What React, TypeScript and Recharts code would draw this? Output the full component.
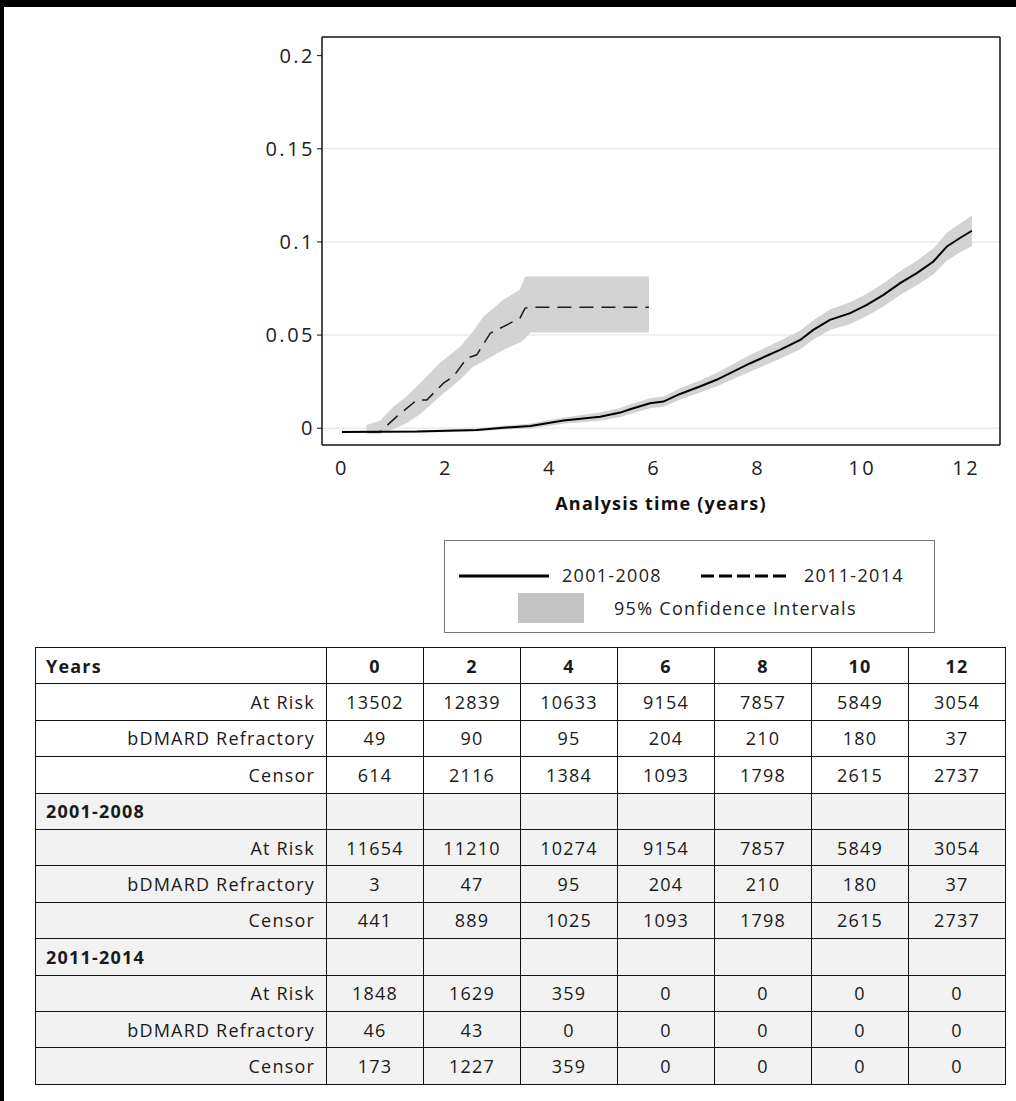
import React from 'react';
import { ComposedChart, Area, Line, XAxis, YAxis, CartesianGrid, Label, ReferenceLine } from 'recharts';

// 2001-2008 cumulative incidence (solid) and its 95% CI
const earlyTimes = [0, 1.44, 2.59, 3.1, 3.62, 4.26, 4.96, 5.35, 5.54, 5.92, 6.18, 6.5, 6.88, 7.2, 7.85, 8.42, 8.81, 9.06, 9.38, 9.77, 10.09, 10.41, 10.73, 11.05, 11.37, 11.63, 11.88, 12.11];
const earlyRisk = [-0.002, -0.0018, -0.0009, 0.0003, 0.0012, 0.0041, 0.0062, 0.0084, 0.0102, 0.0134, 0.0143, 0.0184, 0.0224, 0.026, 0.0349, 0.0421, 0.0474, 0.0528, 0.0582, 0.0618, 0.0662, 0.0716, 0.0779, 0.0833, 0.0895, 0.0976, 0.1021, 0.106];
const earlyLow = [-0.0026, -0.0024, -0.0017, -0.0007, -0.0001, 0.0024, 0.004, 0.006, 0.0077, 0.0107, 0.0115, 0.0154, 0.0192, 0.0224, 0.0304, 0.0373, 0.0424, 0.0476, 0.0527, 0.056, 0.0602, 0.0654, 0.0715, 0.0767, 0.0825, 0.0901, 0.0943, 0.0978];
const earlyHigh = [-0.0014, -0.0012, -0.0001, 0.0013, 0.0025, 0.0058, 0.0084, 0.0108, 0.0127, 0.0161, 0.0171, 0.0214, 0.0256, 0.0296, 0.0394, 0.0469, 0.0524, 0.058, 0.0637, 0.0676, 0.0722, 0.0778, 0.0843, 0.0899, 0.0965, 0.1051, 0.1099, 0.1142];

// 2011-2014 cumulative incidence (dashed)
const lateTimes = [0.5, 0.73, 1.05, 1.44, 1.63, 1.95, 2.14, 2.4, 2.59, 2.85, 3.17, 3.42, 3.52, 3.62, 5.9];
const lateRisk = [-0.002, -0.002, 0.0062, 0.0152, 0.0152, 0.0242, 0.0277, 0.0376, 0.0394, 0.051, 0.0555, 0.0591, 0.0645, 0.065, 0.065];

// 2011-2014 95% CI
const lateCiTimes = [0.47, 0.73, 0.99, 1.24, 1.5, 1.88, 2.27, 2.52, 2.72, 3.1, 3.42, 3.52, 3.62, 5.9];
const lateLow = [-0.003, -0.003, -0.0005, 0.0027, 0.0075, 0.017, 0.026, 0.033, 0.036, 0.042, 0.046, 0.048, 0.0514, 0.0514];
const lateHigh = [0.0018, 0.004, 0.0116, 0.017, 0.0242, 0.035, 0.0438, 0.052, 0.06, 0.069, 0.0743, 0.0814, 0.0814, 0.0814];

const xTicks = [0, 2, 4, 6, 8, 10, 12];
const yTicks = [0, 0.05, 0.1, 0.15, 0.2];
const gridValues = [0, 0.05, 0.1, 0.15];

// risk table
const tableYears = ['0', '2', '4', '6', '8', '10', '12'];
const allAtRisk = [13502, 12839, 10633, 9154, 7857, 5849, 3054];
const allRefractory = [49, 90, 95, 204, 210, 180, 37];
const allCensor = [614, 2116, 1384, 1093, 1798, 2615, 2737];
const earlyAtRisk = [11654, 11210, 10274, 9154, 7857, 5849, 3054];
const earlyRefractory = [3, 47, 95, 204, 210, 180, 37];
const earlyCensor = [441, 889, 1025, 1093, 1798, 2615, 2737];
const lateAtRisk = [1848, 1629, 359, 0, 0, 0, 0];
const lateRefractory = [46, 43, 0, 0, 0, 0, 0];
const lateCensor = [173, 1227, 359, 0, 0, 0, 0];

const earlyLine = earlyTimes.map((t, i) => ({ t, y: earlyRisk[i] }));
const earlyBand = earlyTimes.map((t, i) => ({ t, ci: [earlyLow[i], earlyHigh[i]] }));
const lateLine = lateTimes.map((t, i) => ({ t, y: lateRisk[i] }));
const lateBand = lateCiTimes.map((t, i) => ({ t, ci: [lateLow[i], lateHigh[i]] }));

const FONT = '"Open Sans", "DejaVu Sans", sans-serif';
const xDomain: [number, number] = [-0.385, 12.65];
const yDomain: [number, number] = [-0.009, 0.21];

type TableRow = { label: string; values?: number[]; group?: boolean; gray?: boolean };

const tableRows: TableRow[] = [
  { label: 'At Risk', values: allAtRisk },
  { label: 'bDMARD Refractory', values: allRefractory },
  { label: 'Censor', values: allCensor },
  { label: '2001-2008', group: true, gray: true },
  { label: 'At Risk', values: earlyAtRisk, gray: true },
  { label: 'bDMARD Refractory', values: earlyRefractory, gray: true },
  { label: 'Censor', values: earlyCensor, gray: true },
  { label: '2011-2014', group: true, gray: true },
  { label: 'At Risk', values: lateAtRisk, gray: true },
  { label: 'bDMARD Refractory', values: lateRefractory, gray: true },
  { label: 'Censor', values: lateCensor, gray: true },
];

const cellBorder = '1.5px solid #111';

const RiskTable = () => (
  <table
    style={{
      position: 'absolute',
      left: 35,
      top: 647,
      width: 970,
      borderCollapse: 'collapse',
      tableLayout: 'fixed',
      fontFamily: FONT,
      fontSize: 18,
      letterSpacing: 1.2,
      color: '#1a1a1a',
    }}
  >
    <colgroup>
      <col style={{ width: 291 }} />
      {tableYears.map((y) => (
        <col key={y} style={{ width: 97 }} />
      ))}
    </colgroup>
    <tbody>
      <tr style={{ height: 36.4 }}>
        <td style={{ border: cellBorder, padding: '0 10px', fontWeight: 700 }}>Years</td>
        {tableYears.map((y) => (
          <td key={y} style={{ border: cellBorder, textAlign: 'center', fontWeight: 700, padding: 0 }}>
            {y}
          </td>
        ))}
      </tr>
      {tableRows.map((row, r) => (
        <tr key={r} style={{ height: 36.4, background: row.gray ? '#f2f2f2' : '#fff' }}>
          <td
            style={{
              border: cellBorder,
              padding: '0 11px 0 10px',
              textAlign: row.group ? 'left' : 'right',
              fontWeight: row.group ? 700 : 400,
            }}
          >
            {row.label}
          </td>
          {tableYears.map((y, i) => (
            <td key={y} style={{ border: cellBorder, textAlign: 'center', padding: 0 }}>
              {row.values ? row.values[i] : ''}
            </td>
          ))}
        </tr>
      ))}
    </tbody>
  </table>
);

const LegendBox = () => (
  <div
    style={{
      position: 'absolute',
      left: 444,
      top: 540,
      width: 489,
      height: 91,
      border: '1px solid #777',
      fontFamily: FONT,
      fontSize: 18,
      letterSpacing: 1.3,
      color: '#222',
      background: '#fff',
    }}
  >
    <svg width={489} height={91} style={{ position: 'absolute', left: 0, top: 0 }}>
      <line x1={14} x2={104} y1={35} y2={35} stroke="#000" strokeWidth={3} />
      <line x1={256} x2={346} y1={35} y2={35} stroke="#000" strokeWidth={3} strokeDasharray="13 5" />
      <rect x={73} y={52} width={66} height={30} fill="#c4c4c4" />
    </svg>
    <span style={{ position: 'absolute', left: 117, top: 21, lineHeight: '26px' }}>2001-2008</span>
    <span style={{ position: 'absolute', left: 359, top: 21, lineHeight: '26px' }}>2011-2014</span>
    <span style={{ position: 'absolute', left: 169, top: 54, lineHeight: '26px' }}>95% Confidence Intervals</span>
  </div>
);

export default function App() {
  return (
    <div
      style={{
        position: 'absolute',
        left: 0,
        top: 0,
        width: 1016,
        height: 1101,
        background: '#fff',
        overflow: 'hidden',
      }}
    >
      <div
        style={{
          position: 'absolute',
          left: 0,
          top: 0,
          width: 1030,
          height: 1120,
          borderTop: '7px solid #000',
          borderLeft: '4px solid #000',
          boxSizing: 'border-box',
        }}
      />
      <div style={{ position: 'absolute', left: 0, top: 0 }}>
        <ComposedChart width={1016} height={520} margin={{ top: 37, right: 16, bottom: 5, left: 0 }}>
          <CartesianGrid vertical={false} horizontalValues={gridValues} stroke="#e4eef3" strokeWidth={1.5} />
          <XAxis
            type="number"
            dataKey="t"
            domain={xDomain}
            ticks={xTicks}
            allowDataOverflow
            height={70}
            tickLine={false}
            tickSize={6}
            tickMargin={10}
            axisLine={{ stroke: '#111', strokeWidth: 1.5 }}
            tick={{ fill: '#222', fontSize: 20, fontFamily: FONT, letterSpacing: 2.5 }}
          >
            <Label
              value="Analysis time (years)"
              position="insideBottom"
              offset={5}
              style={{ fill: '#111', fontSize: 18, fontWeight: 700, fontFamily: FONT, letterSpacing: 1.2 }}
            />
          </XAxis>
          <YAxis
            type="number"
            domain={yDomain}
            ticks={yTicks}
            allowDataOverflow
            width={322}
            tickSize={5}
            tickMargin={2}
            tickFormatter={(v: number) => String(v)}
            tickLine={{ stroke: '#111' }}
            axisLine={{ stroke: '#111', strokeWidth: 1.5 }}
            tick={{ fill: '#222', fontSize: 20, fontFamily: FONT, letterSpacing: 2.5 }}
          />
          <Area
            data={lateBand}
            dataKey="ci"
            type="linear"
            fill="#d3d3d3"
            fillOpacity={1}
            stroke="none"
            isAnimationActive={false}
          />
          <Area
            data={earlyBand}
            dataKey="ci"
            type="linear"
            fill="#d3d3d3"
            fillOpacity={1}
            stroke="none"
            isAnimationActive={false}
          />
          <Line
            data={lateLine}
            dataKey="y"
            type="linear"
            stroke="#1a1a1a"
            strokeWidth={1.5}
            strokeDasharray="14 8"
            dot={false}
            isAnimationActive={false}
          />
          <Line
            data={earlyLine}
            dataKey="y"
            type="linear"
            stroke="#000"
            strokeWidth={2}
            dot={false}
            isAnimationActive={false}
          />
          <ReferenceLine y={yDomain[1]} stroke="#111" strokeWidth={1.5} />
          <ReferenceLine x={xDomain[1]} stroke="#111" strokeWidth={1.5} />
        </ComposedChart>
      </div>
      <LegendBox />
      <RiskTable />
    </div>
  );
}
